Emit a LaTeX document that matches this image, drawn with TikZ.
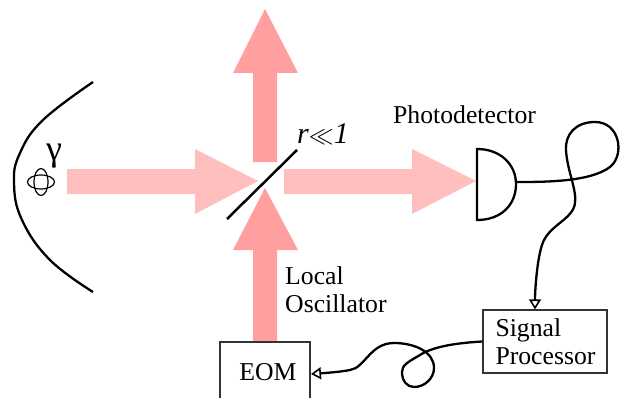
\documentclass[tikz,border=0pt]{standalone}
\usepackage{amssymb}
\usepackage{amsmath}
\usepackage{xcolor}
\usepackage{fontspec}
\setmainfont{Liberation Serif}
\usepackage{tikz}
\usetikzlibrary{arrows.meta}
\definecolor{beamlight}{HTML}{FFBFBF}
\definecolor{beamdark}{HTML}{FF9F9F}
\tikzset{
    label text/.style={font=\fontsize{25.7}{28}\selectfont, inner sep=0pt},
    box/.style={label text, minimum width=124pt, minimum height=63pt},
    fibre/.style={line width=2.3pt},
    fibre arrow/.style={fibre, -{Triangle[open, length=10pt, width=12pt, line width=1.6pt]}},
}

\begin{document}
\begin{tikzpicture}[x=1pt, y=-1pt]
    \useasboundingbox (0,0) rectangle (628,398);

    \fill[beamlight] (67,169) -- (195,169) -- (195,149) -- (258,181) -- (195,214) -- (195,194) -- (67,194) -- cycle;
    \fill[beamlight] (284,169) -- (412,169) -- (412,149) -- (476,181) -- (412,214) -- (412,194) -- (284,194) -- cycle;
    \fill[beamdark] (253,162) -- (253,73) -- (233,73) -- (265,9) -- (298,73) -- (277,73) -- (277,162) -- cycle;
    \fill[beamdark] (253,342) -- (253,250) -- (233,250) -- (265,188) -- (298,250) -- (277,250) -- (277,342) -- cycle;

    \draw[line width=2.3pt] plot[smooth, tension=0.7] coordinates {(93,82) (43,120) (20,153) (14,183) (22,220) (50,260) (93,292)};
    \draw[line width=2.5pt] (227,219) -- (297,150);

    \coordinate (atom) at (41,182);
    \draw[line width=1.2pt] (atom) ellipse (13.5 and 7);
    \draw[line width=1.2pt] (atom) ellipse (7 and 13.5);
    \node[label text] (gamma) at (54,156) {\fontsize{36}{36}\selectfont γ};

    \node[label text, anchor=base west] (ratio) at (297,143) {\fontsize{30}{30}\selectfont\textit{r}$\ll$\textit{1}};
    \node[label text, anchor=base west] (photo) at (393,124) {Photodetector};
    \node[label text, anchor=north west, align=left] (local) at (285,266) {Local\\Oscillator};

    \draw[line width=2.3pt] (477,149) .. controls (501,149) and (516,165) .. (516,184) .. controls (516,205) and (501,220) .. (477,220) -- cycle;
    \coordinate (detector) at (516,182);

    \node[label text, minimum width=90pt, minimum height=56pt] (eom) at (268,372) {EOM};
    \draw[line width=1.2pt, black!80] (220,398) |- (310,342) -- (310,398);
    \node[box, draw=black!80, line width=1.2pt, text width=99pt, align=left] (signal) at (545,341.5) {Signal\\Processor};

    \draw[fibre arrow] (detector) .. controls (545,182) and (590,182) .. (610,167) .. controls (625,155) and (620,122) .. (595,122) .. controls (575,122) and (565,135) .. (566,150) .. controls (567,170) and (577,190) .. (575,203) .. controls (573,220) and (548,225) .. (542,245) .. controls (537,260) and (535,290) .. ([xshift=-10pt]signal.north);
    \draw[fibre arrow] (signal.west) .. controls (455,343) and (432,347) .. (420,355) .. controls (408,362) and (402,365) .. (402,372) .. controls (402,381) and (407,387) .. (414,387) .. controls (425,387) and (434,378) .. (434,368) .. controls (434,352) and (415,343) .. (394,343) .. controls (370,343) and (365,368) .. (350,370) .. controls (340,372) and (325,373) .. (311,374);
\end{tikzpicture}
\end{document}
